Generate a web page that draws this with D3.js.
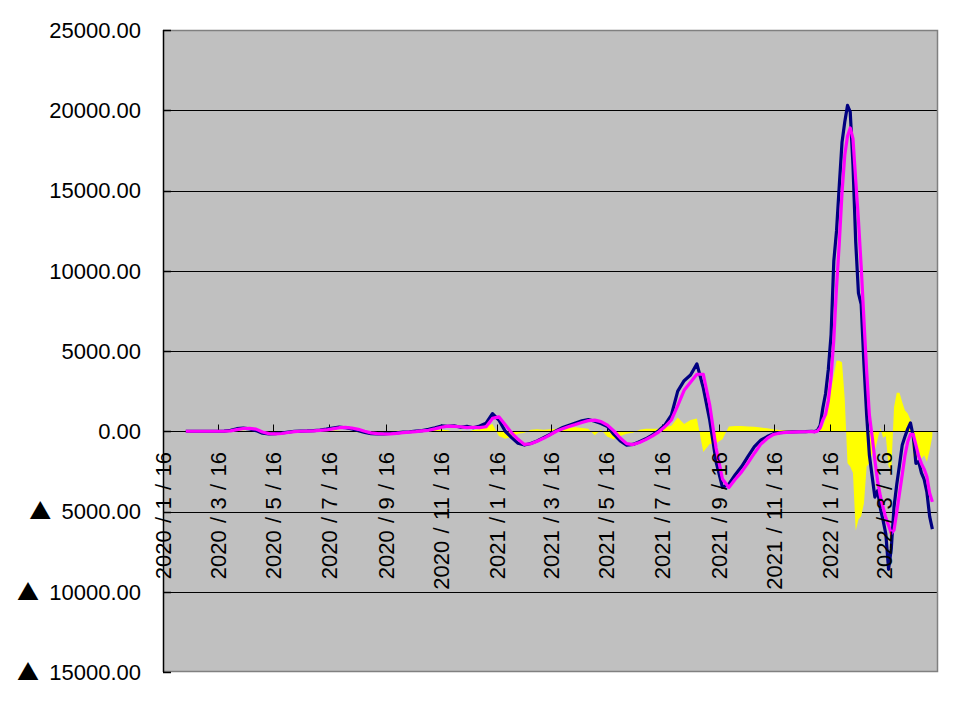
<!DOCTYPE html>
<html><head><meta charset="utf-8">
<script src="https://cdn.jsdelivr.net/npm/d3@7"></script>
<style>
body{margin:0;background:#fff;}
text{font-family:"Liberation Sans",Arial,sans-serif;fill:#000;}
</style>
</head><body>
<svg id="c" width="965" height="702"></svg>
<script>
// ---- categories (dates): weekly samples, then every 3 days for the last months
const weeklyStart = "2020-02-10";
const weeklyStepDays = 7;
const lateStart = "2021-12-30";
const lateStepDays = 3;

// ---- tick labels
const xTickLabels = ["2020/1/16","2020/3/16","2020/5/16","2020/7/16","2020/9/16","2020/11/16",
  "2021/1/16","2021/3/16","2021/5/16","2021/7/16","2021/9/16","2021/11/16","2022/1/16","2022/3/16"];
const yTicks = [25000,20000,15000,10000,5000,0,-5000,-10000,-15000];

// ---- series: navy (raw), magenta (smoothed), yellow (difference area)
const navyWeekly = [0,0,0,0,0,0, 10,60,160,190,150,40, -120,-170,-150,-110,-50,0,
  10,20,40,70,130,200, 260,220,150,40,-70,-150, -170,-160,-140,-100,-60,-30,
  10,40,120,220,330,300, 340,250,300,220,330,
  500,1100,700,0,-400,-750, -860,-760,-600,-400,-200,40, 230,380,520,650,730,620,
  480,300,-200,-600,-860,-820, -650,-470,-240,30,400,1000, 2500,3150,3500,4200,2700,700,
  -1900,-3500,-3300,-2710,-2200,-1560, -960,-560,-330,-150,-90,-50, -40,-30,-20,0];
const navyLate = [-20,50,350,1450,2350,3850,6000,10600,12500,15300,18000,19270,20300,19900,
  16600,11800,8600,7900,4200,1000,-1500,-2800,-4100,-3700,-4800,-5550,-6400,-8600,-7300,
  -4700,-3300,-2100,-850,-330,150,520,-300,-2000,-1900,-2600,-3000,-3800,-5300,-6100];

const magentaWeekly = [0,0,0,0,0,0, 0,20,100,170,180,130, -50,-150,-160,-140,-80,-20,
  0,10,20,50,80,150, 220,240,200,120,0,-100, -150,-170,-160,-130,-90,-50,
  -20,20,60,150,250,320, 300,280,230,250,230,
  280,800,900,400,-100,-500, -820,-780,-620,-440,-220,0, 150,300,420,550,660,690,
  600,380,20,-420,-770,-830, -700,-520,-300,-50,280,700, 1600,2550,3050,3550,3550,1650,
  -1050,-2970,-3500,-2990,-2530,-1970, -1370,-800,-450,-200,-110,-70, -50,-40,-30,-20];
const magentaLate = [-40,0,200,700,1050,1900,3350,5700,9000,11700,14850,17190,18380,18900,
  18230,15670,13150,10260,6950,3750,1010,-320,-1800,-3100,-4030,-4740,-5400,-5870,-6370,
  -6150,-5030,-3860,-2700,-1500,-650,-190,-200,-860,-1560,-2020,-2360,-2840,-3850,-4400];

const yellowWeekly = [0,0,0,0,0,0, 0,30,50,30,-20,-40, -50,-20,0,0,20,20,
  0,0,10,20,30,50, 30,-20,-40,-60,-40,-20, 0,10,20,30,20,20,
  30,40,50,80,100,60, -30,40,-60,80,120,
  300,450,-300,-460,-350,-150, -100,100,120,100,130,150, 180,200,250,200,150,-250,
  100,-350,-500,-300,-150,-100, 100,150,150,150,250,350, 850,450,700,800,-1300,-800,
  -750,-500,300,330,330,300, 280,230,180,120,80,60, 40,30,20,20];
const yellowLate = [30,50,100,300,800,1700,2600,3500,4400,4400,4300,2000,-2000,-2200,
  -2600,-6200,-5500,-5300,-4500,-2200,-2000,-1400,-1200,-500,200,-400,-300,-2200,-2400,
  1500,2400,2400,1800,1300,1100,700,-1500,-2000,-1200,-1700,-1500,-1900,-1200,-300];

// ---- build the date table
const parse = d3.utcParse("%Y-%m-%d");
const parseSlash = d3.utcParse("%Y/%m/%d");
const dates = [
  ...navyWeekly.map((_, i) => d3.utcDay.offset(parse(weeklyStart), i * weeklyStepDays)),
  ...navyLate.map((_, i) => d3.utcDay.offset(parse(lateStart), i * lateStepDays))
];
const navy = navyWeekly.concat(navyLate);
const magenta = magentaWeekly.concat(magentaLate);
const yellow = yellowWeekly.concat(yellowLate);
const rows = dates.map((d, i) => ({date: d, navy: navy[i], magenta: magenta[i], yellow: yellow[i]}));

// ---- layout
const L = 163, R = 938, T = 30, B = 672;
const svg = d3.select("#c");
const x = d3.scaleUtc().domain([parseSlash("2020/1/16"), parseSlash("2022/3/16")]).range([L, 884]);
const y = d3.scaleLinear().domain([-15000, 25000]).range([B, T]);

svg.append("rect").attr("x", L).attr("y", T).attr("width", R - L).attr("height", B - T)
  .attr("fill", "#C0C0C0");

// gridlines
svg.append("g").selectAll("line").data(yTicks.filter(v => v < 25000 && v > -15000 && v !== 0))
  .join("line")
  .attr("x1", L).attr("x2", R).attr("y1", d => Math.round(y(d)) + 0.5).attr("y2", d => Math.round(y(d)) + 0.5)
  .attr("stroke", "#000").attr("stroke-width", 1);

// yellow area
svg.append("path").datum(rows)
  .attr("d", d3.area().x(d => x(d.date)).y0(y(0)).y1(d => y(d.yellow)))
  .attr("fill", "#FFFF00");

// border (top, right, bottom) grey
svg.append("path")
  .attr("d", `M${L},${T + 0.5}H${R - 0.5}V${B - 0.5}H${L}`)
  .attr("fill", "none").attr("stroke", "#808080").attr("stroke-width", 1.5);

// x axis at zero with ticks pointing up
const y0 = Math.round(y(0)) + 0.5;
svg.append("line").attr("x1", L).attr("x2", R).attr("y1", y0).attr("y2", y0)
  .attr("stroke", "#000").attr("stroke-width", 1);
const xTickDates = xTickLabels.map(s => parseSlash(s));
svg.append("g").selectAll("line").data(xTickDates).join("line")
  .attr("x1", d => Math.round(x(d)) + 0.5).attr("x2", d => Math.round(x(d)) + 0.5)
  .attr("y1", y0).attr("y2", y0 - 7)
  .attr("stroke", "#000").attr("stroke-width", 1);

// lines
svg.append("path").datum(rows)
  .attr("d", d3.line().x(d => x(d.date)).y(d => y(d.navy)))
  .attr("fill", "none").attr("stroke", "#000080").attr("stroke-width", 3.2)
  .attr("stroke-linejoin", "round");
svg.append("path").datum(rows)
  .attr("d", d3.line().x(d => x(d.date)).y(d => y(d.magenta)))
  .attr("fill", "none").attr("stroke", "#FF00FF").attr("stroke-width", 3.2)
  .attr("stroke-linejoin", "round");

// left axis
svg.append("line").attr("x1", L + 0.5).attr("x2", L + 0.5).attr("y1", T).attr("y2", B)
  .attr("stroke", "#000").attr("stroke-width", 1.5);
svg.append("g").selectAll("line").data(yTicks).join("line")
  .attr("x1", L).attr("x2", L + 8)
  .attr("y1", d => Math.round(y(d)) + 0.5).attr("y2", d => Math.round(y(d)) + 0.5)
  .attr("stroke", "#000").attr("stroke-width", 1.5);

// y labels (negative values shown with ▲)
const yl = svg.append("g").selectAll("text").data(yTicks).join("text")
  .attr("x", 141).attr("y", d => y(d)).attr("dy", "0.36em")
  .attr("text-anchor", "end").attr("font-size", 22);
yl.each(function(v) {
  const t = d3.select(this);
  if (v < 0) {
    t.append("tspan").attr("font-family", "'Noto Sans CJK JP',sans-serif").text("\u25B2");
    t.append("tspan").attr("dx", 4).text(" " + Math.abs(v).toFixed(2));
  } else {
    t.text(v.toFixed(2));
  }
});

// x labels (rotated)
const xl = svg.append("g").selectAll("text").data(xTickLabels).join("text")
  .attr("transform", d => `translate(${x(parseSlash(d))},452) rotate(-90)`)
  .attr("text-anchor", "end").attr("dy", "0.36em").attr("font-size", 22);
xl.each(function(d) {
  const t = d3.select(this);
  d.split("/").forEach((p, i) => {
    if (i > 0) t.append("tspan").attr("dx", 7.3).text("/");
    t.append("tspan").attr("dx", i > 0 ? 7.3 : 0).text(p);
  });
});
</script>
</body></html>
